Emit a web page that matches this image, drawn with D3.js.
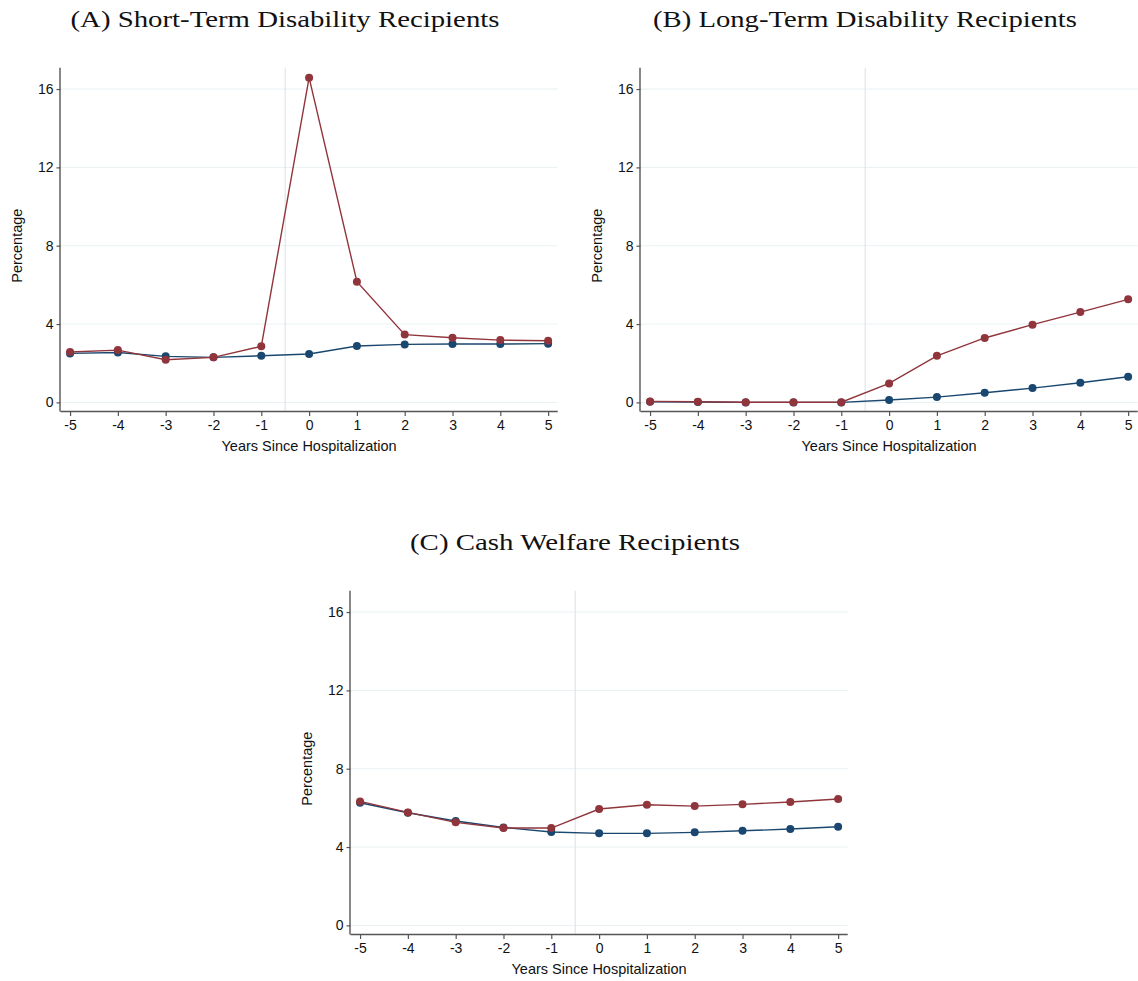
<!DOCTYPE html>
<html>
<head>
<meta charset="utf-8">
<script src="https://cdn.jsdelivr.net/npm/d3@7"></script>
<style>
  body { margin: 0; background: #fff; }
  svg { display: block; }
  .tick text { font-family: "Liberation Sans", Arial, sans-serif; font-size: 14px; fill: #111; }
</style>
</head>
<body>
<svg id="chart" width="1138" height="981"></svg>
<script>
// years since hospitalization
var years = [-5, -4, -3, -2, -1, 0, 1, 2, 3, 4, 5];
var yTicks = [0, 4, 8, 12, 16];

// panel A: short-term disability (percent)
var stdControl = [2.50, 2.55, 2.35, 2.30, 2.38, 2.47, 2.88, 2.96, 2.98, 2.98, 3.00];
var stdTreated = [2.57, 2.67, 2.18, 2.30, 2.86, 16.58, 6.16, 3.46, 3.30, 3.18, 3.15];

// panel B: long-term disability (percent)
var ltdControl = [0.03, 0.02, 0.00, 0.00, 0.00, 0.12, 0.27, 0.49, 0.73, 1.00, 1.31];
var ltdTreated = [0.05, 0.03, 0.01, 0.01, 0.01, 0.97, 2.38, 3.29, 3.97, 4.61, 5.26];

// panel C: cash welfare (percent)
var welControl = [6.26, 5.75, 5.33, 5.00, 4.77, 4.70, 4.70, 4.75, 4.83, 4.92, 5.04];
var welTreated = [6.33, 5.77, 5.26, 4.97, 4.97, 5.94, 6.16, 6.09, 6.18, 6.30, 6.45];

var titles = ["(A) Short-Term Disability Recipients",
              "(B) Long-Term Disability Recipients",
              "(C) Cash Welfare Recipients"];

var panels = [
  { title: titles[0], dx: 0,   dy: 0,   control: stdControl, treated: stdTreated, titleWidth: 429 },
  { title: titles[1], dx: 580, dy: 0,   control: ltdControl, treated: ltdTreated, titleWidth: 424 },
  { title: titles[2], dx: 290, dy: 523, control: welControl, treated: welTreated, titleWidth: 330 }
];

var blue = '#1a476f',
    red = '#90353b',
    gridColor = '#eaf1f3',
    refColor = '#d8e3ea',
    axisColor = '#555';

var svg = d3.select('#chart');

var x = d3.scaleLinear().domain([-5.2, 5.2]).range([60.5, 557.7]);
var y = d3.scaleLinear().domain([-0.44, 17.09]).range([411, 67.7]);

panels.forEach(function(p) {
    var g = svg.append('g').attr('transform', 'translate(' + p.dx + ',' + p.dy + ')');

    g.append('text')
        .attr('x', 285)
        .attr('y', 27)
        .attr('text-anchor', 'middle')
        .attr('textLength', p.titleWidth)
        .attr('lengthAdjust', 'spacingAndGlyphs')
        .style('font-family', '"Liberation Serif", "DejaVu Serif", serif')
        .style('font-size', '24px')
        .style('fill', '#111')
        .text(p.title);

    // horizontal grid
    g.selectAll('line.grid')
        .data(yTicks)
        .enter().append('line')
        .attr('class', 'grid')
        .attr('x1', x.range()[0])
        .attr('x2', x.range()[1])
        .attr('y1', function(d) { return y(d); })
        .attr('y2', function(d) { return y(d); })
        .attr('stroke', gridColor)
        .attr('stroke-width', 1);

    // reference line between -1 and 0
    g.append('line')
        .attr('x1', x(-0.5))
        .attr('x2', x(-0.5))
        .attr('y1', y.range()[1])
        .attr('y2', y.range()[0])
        .attr('stroke', refColor)
        .attr('stroke-width', 1);

    var xAxis = g.append('g')
        .attr('transform', 'translate(0,' + y.range()[0] + ')')
        .call(d3.axisBottom(x).tickValues(years).tickSize(5).tickPadding(4)
            .tickFormat(function(d) { return String(d); }));
    xAxis.select('.domain').attr('d', 'M' + x.range()[0] + ',0.5H' + x.range()[1]);

    var yAxis = g.append('g')
        .attr('transform', 'translate(' + x.range()[0] + ',0)')
        .call(d3.axisLeft(y).tickValues(yTicks).tickSize(4).tickPadding(3));
    yAxis.select('.domain').attr('d', 'M-0.5,' + y.range()[1] + 'V' + (y.range()[0] + 0.5));

    g.selectAll('.domain').attr('stroke', axisColor).attr('stroke-width', 1.4);
    g.selectAll('.tick line').attr('stroke', axisColor).attr('stroke-width', 1.2);

    g.append('text')
        .attr('x', (x(-5) + x(5)) / 2)
        .attr('y', 451)
        .attr('text-anchor', 'middle')
        .style('font-family', '"Liberation Sans", Arial, sans-serif')
        .style('font-size', '14.5px')
        .style('fill', '#111')
        .text('Years Since Hospitalization');

    g.append('text')
        .attr('transform', 'translate(22,' + ((y(0) + y(16)) / 2) + ') rotate(-90)')
        .attr('text-anchor', 'middle')
        .style('font-family', '"Liberation Sans", Arial, sans-serif')
        .style('font-size', '14.5px')
        .style('fill', '#111')
        .text('Percentage');

    var line = d3.line()
        .x(function(d, i) { return x(years[i]); })
        .y(function(d) { return y(d); });

    [{ vals: p.control, color: blue }, { vals: p.treated, color: red }].forEach(function(s) {
        g.append('path')
            .datum(s.vals)
            .attr('d', line)
            .attr('fill', 'none')
            .attr('stroke', s.color)
            .attr('stroke-width', 1.4);

        g.selectAll(null)
            .data(s.vals)
            .enter().append('circle')
            .attr('cx', function(d, i) { return x(years[i]); })
            .attr('cy', function(d) { return y(d); })
            .attr('r', 4)
            .attr('fill', s.color);
    });
});
</script>
</body>
</html>
